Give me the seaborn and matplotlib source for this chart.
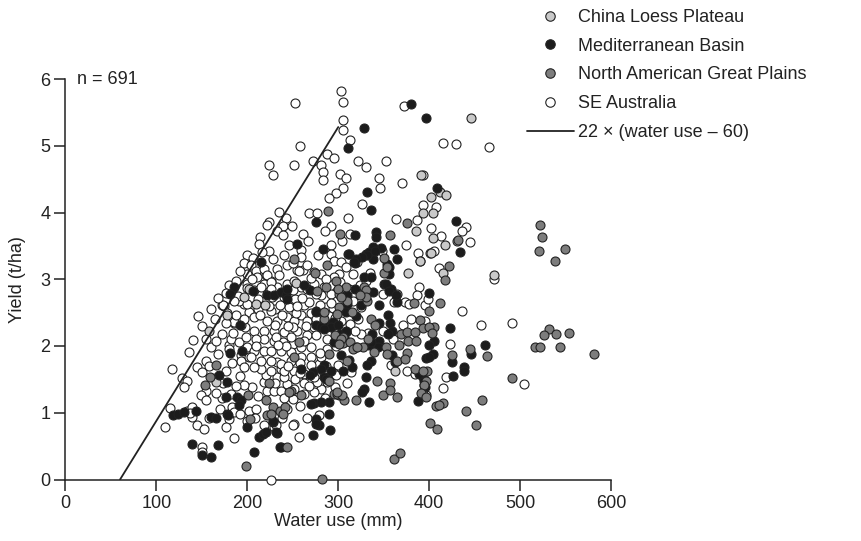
import matplotlib
matplotlib.use("Agg")
import matplotlib.pyplot as plt
from matplotlib.lines import Line2D
import seaborn as sns
import pandas as pd

# ---------------- data (water use mm, yield t/ha) ----------------
se_australia = [
    (303,5.82),(305,5.65),(305.6,5.39),(305.6,5.23),(313,5.08),(252,5.64),(258,4.99),(224,4.71),(228,4.56),
    (251,4.71),(272,4.77),(281,4.71),(283,4.61),(283,4.49),(288,4.87),(295,4.81),(302,4.57),(309,4.52),
    (305,4.37),(297,4.29),(290,4.22),(311,3.92),(268,4.0),(277,4.0),(292,3.80),(285,3.73),(235,4.01),
    (242,3.92),(224,3.86),(222,3.81),(239,3.80),(233,3.72),(239,3.66),(249,3.80),(261,3.68),(267,3.58),
    (246,3.51),(259,3.44),(214,3.63),(213,3.53),(224,3.42),(292,3.52),(304,3.57),(259,3.33),(278,3.37),
    (292,3.38),(295,3.28),(303,3.26),(308,3.18),(200,3.36),(196,3.24),(206,3.32),(204,3.21),(233,3.16),
    (244,3.21),(255,3.14),(261,3.14),(273,3.11),
    (372,5.60),(415,5.04),(430,5.02),(466,4.98),(393,4.56),(408,4.08),(393,4.11),(441,3.79),(436,3.72),
    (402,3.77),(413,3.65),(445,3.56),(411,3.17),(471,3.0),(395,2.61),(436,2.53),(457,2.32),(491,2.34),
    (423,2.03),(418,1.53),(415,1.37),(397,1.27),(504,1.43),
    (322,4.77),(330,4.68),(352,4.77),(345,4.52),(346,4.36),(370,4.44),(326,4.13),(363,3.91),(387,3.89),
    (375,3.51),(388,3.40),(390,3.27),(405,3.43),(348,3.42),(335,3.09),(321,3.26),(313,3.68),(361,2.66),
    (389,2.88),(387,2.76),(399,2.71),(373,2.66),(349,2.78),(395,2.37),(371,2.31),(380,2.41),(349,2.22),
    (360,2.11),(358,1.71),(376,1.63),(384,1.58),(378,2.63),
    (286,2.59),(294,2.57),(304,2.59),(325,2.58),(313,2.33),(303,2.38),(297,2.21),(333,2.20),(325,2.18),
    (279,1.73),(284.5,1.59),(294,1.61),(288,1.46),(281,1.36),(279,0.96),(251,0.83),(257,0.63),(314,1.61),
    (174,2.60),(185,2.34),(197,2.29),(154,2.11),(140.6,2.09),(136,1.91),(180,2.01),(182,2.11),(192.7,1.86),
    (192.7,1.78),(202,1.83),(117.5,1.66),(145,1.69),(150.5,1.61),(128.5,1.52),(134,1.47),(130,1.38),
    (154,1.33),(149,1.26),(155,1.19),(172.6,1.22),(182,1.28),(183.6,1.09),(185,1.01),(180,0.91),(177,0.79),
    (202,1.02),(209,1.06),(200,0.88),(220,0.78),(229.5,0.79),(185.4,0.62),(226.5,0.0),(150.5,0.48),
    (149.8,0.41),(115,1.07),(109,0.79),(134,1.02),(139.5,1.08),(139.5,0.94),(145,0.81),(152,0.76),
    (218,1.46),(222,1.33),(229.5,1.33),(237,1.33),(244,1.43),(233,1.53),(240,1.53),(220,1.56),(215,1.66),
    (226,1.63),(237,1.66),(233,1.76),(222,1.83),
    (200,3.08),(235,3.06),(220,3.06),(226,2.98),(233,2.88),(244,2.93),(240,2.73),(227.6,2.73),
    (172.6,2.61),(196,2.63),
    (301,3.08),(302,2.96),(295,3.04),(316,3.08),(297,2.81),(284.5,2.88),(292,2.78),(281,3.08),(273.5,2.93),
    (281,2.76),(259,2.88),(251,2.98),(257,3.13),
    (209,3.13),(218,3.16),(211,3.03),(222,3.06),(200,2.93),(200,2.87),(207,2.84),(191,2.68),(202,2.51),
    (185,2.36),(192.7,2.31),(173.7,2.61),(178,2.49),(218,2.93),(226,2.96),(222,2.78),(207,2.43),(222,2.38),
    (233,2.38),(244,2.43),(251,2.38),(259,2.46),(266,2.38),(273.5,2.28),(229.5,2.23),(240,2.21),(218,2.23),
    (207,2.23),(255,2.23),(266,2.16),
    (277,1.46),(273.5,1.31),(262,1.28),(251,1.36),(250,0.81),(231,0.81),(218,0.81),
    (218,2.11),(229.5,2.08),(238.7,2.06),(249.7,2.03),(180,1.96),(191,2.06),(200,1.98),(207,1.93),(218,1.93),
    (226,1.93),(237,1.93),(248,1.91),(259,1.98),(270,1.98),(204,1.83),(215,1.78),(226,1.78),(237,1.73),
    (248,1.78),(259,1.83),(270,1.83),(281,1.83),(196,1.68),(207,1.68),(240,1.63),(251,1.63),(262,1.58),
    (273.5,1.53),(137,1.0),(190,2.75),(185,2.68),(212,2.56),(230,2.55),(246,2.58),(262,2.62),(270,2.50),
    (254,2.50),(238,2.46),(226,2.52),(214,2.46),(264,2.30),(250,2.28),(230,2.31),(284,2.50),(268,2.66),
    (280,2.62),(290,2.45),(252,2.70),(236,2.62),(260,2.72),(212,2.70),(200,2.63),(188,2.47),(196,2.40),
    (288,2.30),(276,2.16),(288,2.10),(298,2.00),(262,2.08),(248,2.13),(232,2.14),(210,2.10),(198,2.14),
    (288,1.95),(280,1.90),(270,1.72),(258,1.75),(245,1.70),(300,1.72),(298,1.56),(262,1.45),(252,1.50),
    (268,1.40),(258,1.10),(250,1.20),(240,1.22),(212,1.25),(205,1.38),(196,1.42),(192,1.55),(176,1.62),
    (168,1.88),(160,1.98),(172,2.18),(164,2.40),(168,2.72),(180,2.92),(160,2.55),(150,2.30),(146,2.45),
    (155,1.78),(165,1.30),(170,1.05),(158,0.92),(192,0.98),(208,0.92),(238,0.92),(244,1.05),(266,0.92),
    (285,1.22),(296,1.38),(310,1.45),(318,2.22),(322,2.40),(316,2.68),(324,2.92),(312,2.86),(330,2.98),
    (205,3.00),(215,2.88),(226,2.86),(250,2.84),(266,2.86),(270,3.02),(287,3.00),(266,3.22),(250,3.25),
    (240,3.36),(228,3.30),(216,3.41),(192,3.12),(188,2.98),(176,2.80),(184,2.20),(176,2.34),(166,2.08),
    (158,1.70),(164,1.52),(210,2.00),(242,2.00),(276,2.40),(296,2.42),(292,2.64),(275,2.78),(255,2.60),
    (245,2.30),(234,2.02),(224,2.60),(183,1.75),(173,1.45),(188,1.40),(230,1.45),(258,1.60),(286,1.70),
]
mediterranean = [
    (328,5.26),(311,4.97),(380,5.62),(397,5.41),(408.6,4.37),(430,3.87),(433.5,3.41),(400,2.79),(423,2.27),
    (405.6,2.08),(400,2.02),(404,1.88),(397,1.82),(461.5,2.01),(446,1.88),(425,1.76),(438.7,1.68),(438,1.62),
    (426,1.55),(393,1.53),(394,1.41),
    (276,3.86),(255,3.53),(283,3.46),(311,3.38),(215,3.26),(332,4.31),(336,4.04),(361.6,3.45),(365,3.31),
    (347,3.47),(339.5,3.46),(341,3.71),(341,3.64),(330,3.38),(338,3.31),(318,3.24),(354,3.23),(356,3.18),
    (328.6,3.04),(318,3.67),
    (350.6,2.93),(358,2.86),(365,2.66),(355,2.46),(357,2.34),(359,2.23),(355,2.18),(337,2.18),(334,2.02),
    (336,1.78),(332,1.71),(330,1.54),(328.6,1.36),(326.6,1.31),(334,1.16),(345,2.07),(344,1.99),(359,1.87),
    (362,1.76),(389,1.58),(394,1.48),(395,1.39),(388,1.17),(400,1.83),
    (276,2.53),(310,2.63),(308,2.51),(284.5,2.38),(294,2.36),(292,2.28),(275,2.31),(302,2.18),(308,2.21),
    (308,2.08),(336,2.06),(303,1.86),(312,1.79),(315,1.69),(284.5,1.71),(280.8,1.66),(271.7,1.61),
    (258.8,1.66),(284,1.53),(286,1.50),(273,1.14),(290,1.16),(290,0.98),(276,0.91),(279,0.81),(291,0.74),
    (272,0.66),(275,0.83),(237,0.48),
    (192,2.31),(181,1.90),(194.6,1.93),(169,1.56),(178,1.46),(176,1.23),(189,1.23),(193,1.19),(191,1.11),
    (178,0.98),(200,0.79),(213,0.63),(217,0.68),(220,0.71),(233,0.69),(228,0.86),(207,0.41),(236,0.48),
    (139.5,0.53),(150.5,0.36),(160,0.33),(167.7,0.52),(118,0.96),(124,0.98),(130,1.01),(143,1.02),
    (160,0.94),(165,0.92),(179,0.96),(228,0.88),(232,0.71),
    (185,2.88),(181,2.78),(206.6,2.83),(222,2.76),(229.5,2.76),(237,2.81),(242,2.76),(244,2.86),(338,3.48),
    (334,3.41),(340,3.43),(331.5,3.36),(326.6,3.33),(320,3.31),(317,3.26),(312,3.38),(356,3.08),(352,2.93),
    (356,2.83),(363,2.76),(336,3.04),(338,2.81),(310,2.76),(269,2.84),(244,2.71),
    (275,2.51),(269,1.57),(292,1.63),(305,1.63),(281,1.16),(270,1.13),(281,2.28),(284.5,2.26),
    (295.5,2.06),(308,2.23),(318,2.85),(325,2.62),(345,2.62),(320,2.45),(345,2.35),(262,2.92),(300,2.32),
]
north_american = [
    (522,3.82),(524,3.64),(521,3.43),(549,3.46),(538,3.27),(412,2.65),(400,2.52),(405.6,2.28),(445,1.96),
    (464,1.85),(425,1.86),(398,1.62),(393,1.28),(415,1.15),(407,1.10),(458,1.19),(441,1.02),(401,0.84),
    (409,0.75),(452,0.81),(532,2.26),(526,2.16),(540,2.18),(553.5,2.20),(516,1.98),(522,1.98),(544,1.98),
    (581,1.88),(491,1.52),(432,3.59),(422,3.20),(417,2.99),
    (289,4.02),(302,3.68),(251,3.31),(288,3.22),(274,3.09),(350.6,3.32),(350,3.09),(375.5,3.85),(357,3.66),
    (383,2.65),(336,2.41),(340,2.32),(390,2.39),(393,2.27),(400,2.29),(403,2.20),(369,2.18),(376,2.21),
    (384,2.21),(377,2.08),(385,2.08),(339,1.91),(352,1.98),(354,1.88),(367,2.01),(376,1.89),(365,1.78),
    (373,1.81),(384,1.66),(393,1.63),(397,1.47),(394,1.41),(390.6,1.29),(396,1.23),(411,1.12),(343,1.47),
    (349,1.26),(357,1.44),(357,1.34),(365,1.24),(319,1.19),(306.5,1.19),(301,1.27),(295.5,1.28),
    (301,2.58),(299,2.48),(315,2.51),(332,2.68),(284.5,2.41),(296,2.16),(305,2.14),(305,2.04),(313,2.06),
    (319,1.98),(316,1.96),(333,2.11),(327,1.98),(321,1.98),(290,1.88),(310,1.78),(290,1.48),(299,1.28),
    (304,1.26),(259,1.26),(248,1.32),(244,0.48),(361.6,0.30),(368,0.40),(282,0.01),
    (165,1.72),(159,1.53),(153,1.41),(201,1.27),(203,0.91),(198,0.20),(224,1.44),(220,1.19),(228,1.08),
    (236,1.03),(241,1.09),(246,1.31),
    (328,2.88),(330,2.84),(330,2.73),(324,2.77),(287,2.88),(297,2.98),(308,2.88),(301,2.78),(310,2.68),
    (353.5,3.19),(300,2.86),(277,2.83),(303,2.73),(303,2.11),(301,2.03),(284.5,2.51),(251,1.83),(257,2.06),
    (239,0.98),(222,0.96),(226,0.98),(299,1.31),
]
china_loess = [
    (446,5.41),(412,4.31),(418.5,4.26),(402,4.23),(404,3.99),(393,3.99),(404,3.62),(417,3.51),(401,3.39),
    (415,3.10),(471.6,3.07),(391,4.56),(385,3.73),(402,3.40),(377,3.10),(390,3.28),(365,2.78),(431,3.57),
    (254,2.94),(178,2.47),(158,2.23),(166,1.46),(202,2.86),(196,2.73),(209,2.63),(219,2.62),(362.6,1.62),
]
regions = ["China Loess Plateau", "Mediterranean Basin", "North American Great Plains", "SE Australia"]
region_colors = ["#c9c9c9", "#1c1c1c", "#7d7d7d", "#ffffff"]
line_intercept = 60      # mm
line_slope = 22          # kg/ha per mm
line_x = [60, 300]
n_label = "n = 691"

# ---------------- build table ----------------
rows = []
for name, pts in [("SE Australia", se_australia), ("China Loess Plateau", china_loess),
                  ("Mediterranean Basin", mediterranean), ("North American Great Plains", north_american)]:
    for x, y in pts:
        rows.append({"region": name, "water": x, "yield": y})
df = pd.DataFrame(rows)
palette = dict(zip(regions, region_colors))

sns.set_theme(style="ticks")
plt.rcParams["font.family"] = ["Liberation Sans", "DejaVu Sans"]
ink = "#222222"

fig = plt.figure(figsize=(8.62, 5.41), dpi=100)
ax = fig.add_axes([65.5/862, (541-479.5)/541, (611-65.5)/862, (479.5-79)/541])

for name in ["SE Australia", "China Loess Plateau", "Mediterranean Basin", "North American Great Plains"]:
    sub = df[df.region == name]
    sns.scatterplot(data=sub, x="water", y="yield", color=palette[name], edgecolor=ink,
                    linewidth=0.8, s=42, ax=ax, legend=False, clip_on=False, zorder=3)

lx = pd.Series(line_x, dtype=float)
ly = line_slope * (lx - line_intercept) / 1000.0
sns.lineplot(x=lx, y=ly, ax=ax, color=ink, linewidth=1.3, zorder=4)

ax.set_xlim(0, 600)
ax.set_ylim(0, 6)
ax.set_xticks([0, 100, 200, 300, 400, 500, 600])
ax.set_yticks([0, 1, 2, 3, 4, 5, 6])
sns.despine(ax=ax)
for s in ["left", "bottom"]:
    ax.spines[s].set_color(ink)
    ax.spines[s].set_linewidth(1.1)
ax.tick_params(axis="both", direction="out", length=8, width=1.1, color=ink,
               labelsize=13, labelcolor=ink, pad=3)
ax.set_xlabel("Water use (mm)", fontsize=13, color=ink, labelpad=1)
ax.set_ylabel("Yield (t/ha)", fontsize=13, color=ink, labelpad=10)
ax.text(13, 6.0, n_label, fontsize=13, color=ink, va="center", ha="left")

handles = [Line2D([], [], linestyle="none", marker="o", markersize=6.8, markerfacecolor=c,
                  markeredgecolor=ink, markeredgewidth=0.8) for c in region_colors]
handles.append(Line2D([], [], color=ink, linewidth=1.3))
labels = regions + ["22 \u00d7 (water use \u2013 60)"]
fig.legend(handles, labels, loc="upper left", bbox_to_anchor=(527/862, 1 - 9/541),
           frameon=False, fontsize=13, handlelength=2.6, handletextpad=0.25,
           labelspacing=0.65, borderpad=0, borderaxespad=0, labelcolor=ink)

fig.savefig("out.png", dpi=100)
